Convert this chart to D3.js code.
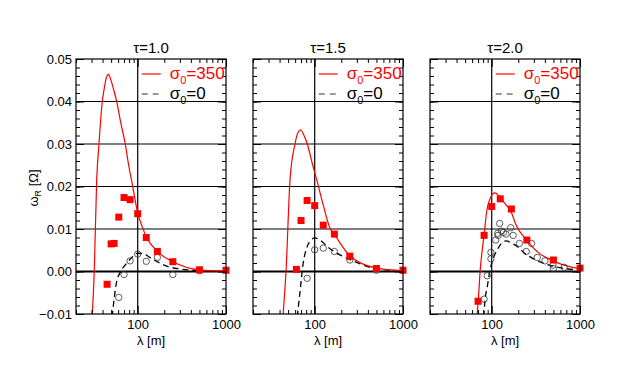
<!DOCTYPE html>
<html>
<head>
<meta charset="utf-8">
<script src="https://cdn.jsdelivr.net/npm/d3@7"></script>
<style>
  body { margin: 0; background: #fff; }
  text { font-family: "Liberation Sans", Arial, sans-serif; }
</style>
</head>
<body>
<svg id="chart" width="623" height="374"></svg>
<script>
// panel titles (tau values)
const taus = ["1.0", "1.5", "2.0"];

// x / y ticks
const xMajor = [100, 1000];
const xMinor = [20, 30, 40, 50, 60, 70, 80, 90, 200, 300, 400, 500, 600, 700, 800, 900];
const yMajor = [-0.01, 0.00, 0.01, 0.02, 0.03, 0.04, 0.05];
const yMinor = d3.range(-0.01, 0.0501, 0.002);
const yGrid = [0.01, 0.02, 0.03, 0.04];

// model curves, sigma0 = 350 (red solid)  [lambda, omega]
const curve350_t10 = [[29.5,-0.015],[30.6,-0.01],[32.2,0],[34.3,0.0215],[36.4,0.03],[39.7,0.04],[41.8,0.0431],
  [44,0.0455],[46.5,0.0464],[49.5,0.0452],[52.9,0.0431],[57.8,0.04],[64,0.0352],[72.3,0.03],[79,0.025],[86.9,0.0205],
  [100,0.0138],[114,0.0102],[125,0.0082],[167,0.0047],[250,0.0023],[500,0.0004],[1000,0.0001]];
const curve350_t15 = [[43,-0.013],[44,-0.0098],[47.3,0],[52.5,0.0215],[59.8,0.03],[64,0.0325],[69.3,0.0333],
  [75,0.0322],[82.4,0.03],[95,0.025],[106.6,0.0212],[125,0.0156],[149,0.0102],[167,0.0087],[250,0.0037],
  [500,0.0008],[1000,0.0002]];
const curve350_t20 = [[67,-0.013],[68.6,-0.0098],[70.5,-0.0067],[74,0.0002],[78,0.005],[82,0.0086],[88,0.0143],
  [96,0.0172],[102,0.0182],[109,0.0185],[120,0.0178],[130,0.0169],[145,0.0157],[165,0.0141],[190,0.0108],
  [248,0.0074],[350,0.0042],[500,0.0025],[600,0.0018],[1000,0.0006]];

// model curves, sigma0 = 0 (black dashed)
const curve0_t10 = [[50,-0.013],[53,-0.008],[57,-0.003],[64,0.0],[72,0.0015],[85,0.0032],[100,0.0043],
  [115,0.0042],[140,0.0032],[170,0.0022],[210,0.0013],[300,0.0006],[500,0.0002],[1000,0.0]];
const curve0_t15 = [[62,-0.013],[64,-0.01],[68,-0.005],[74,0.0019],[82,0.0058],[92,0.0075],[100,0.0079],
  [115,0.0074],[142,0.0057],[193,0.0039],[271,0.0025],[457,0.0008],[1000,0.0001]];
const curve0_t20 = [[80,-0.013],[84,-0.0067],[89,-0.0036],[95,0],[101,0.0023],[115,0.005],[130,0.0067],
  [145,0.0072],[170,0.0066],[200,0.0057],[230,0.0045],[290,0.0031],[450,0.0015],[640,0.0008],[1000,0.0003]];

// observations, sigma0 = 350 (red squares)
const obs350_t10 = [[45,-0.003],[50,0.0065],[54,0.0066],[61,0.0128],[70,0.0174],[82,0.0169],[100,0.0136],
  [125,0.008],[167,0.0047],[250,0.0023],[500,0.0004],[1000,0.0003]];
const obs350_t15 = [[62,0.0005],[70,0.012],[82,0.0167],[100,0.0155],[125,0.0109],[167,0.0088],[250,0.0036],
  [500,0.0007],[1000,0.0003]];
const obs350_t20 = [[70,-0.007],[82,0.0085],[100,0.0153],[125,0.0171],[167,0.0147],[250,0.0074],[500,0.0027],
  [1000,0.0008]];

// observations, sigma0 = 0 (open circles)
const obs0_t10 = [[61,-0.0061],[70,-0.0007],[82,0.0025],[100,0.0041],[125,0.0024],[167,0.0033],[250,-0.0007],
  [500,0.0002]];
const obs0_t15 = [[82,-0.0016],[100,0.0051],[125,0.0055],[167,0.0047],[250,0.0027],[500,0.0003]];
const obs0_t20 = [[82,-0.0065],[89,-0.001],[98,0.003],[98,0.0045],[111,0.0074],[117,0.009],[123,0.0113],
  [118,0.0085],[129,0.0095],[136,0.0092],[145,0.0088],[164,0.0103],[175,0.0085],[206,0.0066],[246,0.0047],
  [283,0.0066],[328,0.0033],[401,0.0025],[494,0.0015],[500,0.0007],[661,0.001]];

const curves350 = [curve350_t10, curve350_t15, curve350_t20];
const curves0 = [curve0_t10, curve0_t15, curve0_t20];
const obs350 = [obs350_t10, obs350_t15, obs350_t20];
const obs0 = [obs0_t10, obs0_t15, obs0_t20];

const svg = d3.select("#chart");
const panelLeft = [76, 253, 430];
const plotTop = 59, pw = 150, ph = 255;

const x = d3.scaleLog().domain([20, 1000]).range([0, pw]);
const y = d3.scaleLinear().domain([-0.01, 0.05]).range([ph, 0]);

const line = d3.line()
  .x(d => x(d[0]))
  .y(d => y(d[1]))
  .curve(d3.curveMonotoneX);

taus.forEach((tau, i) => {
  const g = svg.append("g").attr("transform", `translate(${panelLeft[i]},${plotTop})`);

  g.append("clipPath").attr("id", "clip" + i)
    .append("rect").attr("width", pw).attr("height", ph);

  // grid
  g.selectAll(".hgrid").data(yGrid).enter().append("line")
    .attr("x1", 0).attr("x2", pw)
    .attr("y1", d => y(d)).attr("y2", d => y(d))
    .attr("stroke", "#000").attr("stroke-width", 1.2);
  g.append("line")
    .attr("x1", 0).attr("x2", pw).attr("y1", y(0)).attr("y2", y(0))
    .attr("stroke", "#000").attr("stroke-width", 2);
  g.append("line")
    .attr("x1", x(100)).attr("x2", x(100)).attr("y1", 0).attr("y2", ph)
    .attr("stroke", "#000").attr("stroke-width", 1.2);

  // curves
  const cg = g.append("g").attr("clip-path", `url(#clip${i})`);
  cg.append("path").datum(curves0[i]).attr("d", line)
    .attr("fill", "none").attr("stroke", "#000").attr("stroke-width", 1.3)
    .attr("stroke-dasharray", "6,4");
  cg.append("path").datum(curves350[i]).attr("d", line)
    .attr("fill", "none").attr("stroke", "red").attr("stroke-width", 1.2);

  // data points
  g.selectAll(".circ").data(obs0[i]).enter().append("circle")
    .attr("cx", d => x(d[0])).attr("cy", d => y(d[1])).attr("r", 3.2)
    .attr("fill", "none").attr("stroke", "#333").attr("stroke-width", 0.8);
  g.selectAll(".sq").data(obs350[i]).enter().append("rect")
    .attr("x", d => x(d[0]) - 3.5).attr("y", d => y(d[1]) - 3.5)
    .attr("width", 7).attr("height", 7).attr("fill", "red");

  // axes with inward ticks
  const styleAxis = sel => {
    sel.select(".domain").remove();
    sel.selectAll("line").attr("stroke", "#000").attr("stroke-width", 1);
    sel.selectAll("text").style("font-size", "13px")
      .style("font-family", "'Liberation Sans', Arial, sans-serif").attr("fill", "#000");
  };
  const noLabel = () => "";

  g.append("g").call(d3.axisLeft(y).tickValues(yMinor).tickSize(-4).tickFormat(noLabel)).call(styleAxis);
  g.append("g").call(d3.axisLeft(y).tickValues(yMajor).tickSize(-8).tickPadding(4)
    .tickFormat(i === 0 ? d3.format(".2f") : noLabel)).call(styleAxis);
  g.append("g").attr("transform", `translate(${pw},0)`)
    .call(d3.axisRight(y).tickValues(yMinor).tickSize(-4).tickFormat(noLabel)).call(styleAxis);
  g.append("g").attr("transform", `translate(${pw},0)`)
    .call(d3.axisRight(y).tickValues(yMajor).tickSize(-8).tickFormat(noLabel)).call(styleAxis);

  g.append("g").attr("transform", `translate(0,${ph})`)
    .call(d3.axisBottom(x).tickValues(xMinor).tickSize(-4).tickFormat(noLabel)).call(styleAxis);
  g.append("g").attr("transform", `translate(0,${ph})`)
    .call(d3.axisBottom(x).tickValues(xMajor).tickSize(-8).tickPadding(6).tickFormat(d3.format("d")))
    .call(styleAxis);
  g.append("g").call(d3.axisTop(x).tickValues(xMinor).tickSize(-4).tickFormat(noLabel)).call(styleAxis);
  g.append("g").call(d3.axisTop(x).tickValues(xMajor).tickSize(-8).tickFormat(noLabel)).call(styleAxis);

  // frame
  g.append("rect").attr("width", pw).attr("height", ph)
    .attr("fill", "none").attr("stroke", "#000").attr("stroke-width", 1.2);

  // title
  g.append("text").attr("x", pw / 2).attr("y", -6).attr("text-anchor", "middle")
    .style("font-size", "15px").text("\u03c4=" + tau);

  // x label
  g.append("text").attr("x", pw / 2).attr("y", ph + 31).attr("text-anchor", "middle")
    .style("font-size", "13px").text("\u03bb [m]");

  // legend
  const lx = x(100) + 4;
  g.append("line").attr("x1", lx).attr("x2", lx + 19).attr("y1", 15).attr("y2", 15)
    .attr("stroke", "red").attr("stroke-width", 1.2);
  const t1 = g.append("text").attr("x", lx + 28).attr("y", 20)
    .style("font-size", "17px").attr("fill", "red");
  t1.append("tspan").text("\u03c3");
  t1.append("tspan").attr("dy", 5).style("font-size", "11px").text("0");
  t1.append("tspan").attr("dy", -5).text("=350");

  g.append("line").attr("x1", lx).attr("x2", lx + 19).attr("y1", 35).attr("y2", 35)
    .attr("stroke", "#777").attr("stroke-width", 1.3).attr("stroke-dasharray", "6,5");
  const t2 = g.append("text").attr("x", lx + 28).attr("y", 40)
    .style("font-size", "17px").attr("fill", "#000");
  t2.append("tspan").text("\u03c3");
  t2.append("tspan").attr("dy", 5).style("font-size", "11px").text("0");
  t2.append("tspan").attr("dy", -5).text("=0");
});

// y axis label
const yl = svg.append("text")
  .attr("transform", "translate(38,188) rotate(-90)")
  .attr("text-anchor", "middle").style("font-size", "13px");
yl.append("tspan").text("\u03c9");
yl.append("tspan").attr("dy", 3).style("font-size", "9px").text("R");
yl.append("tspan").attr("dy", -3).text(" [\u03a9]");
</script>
</body>
</html>
